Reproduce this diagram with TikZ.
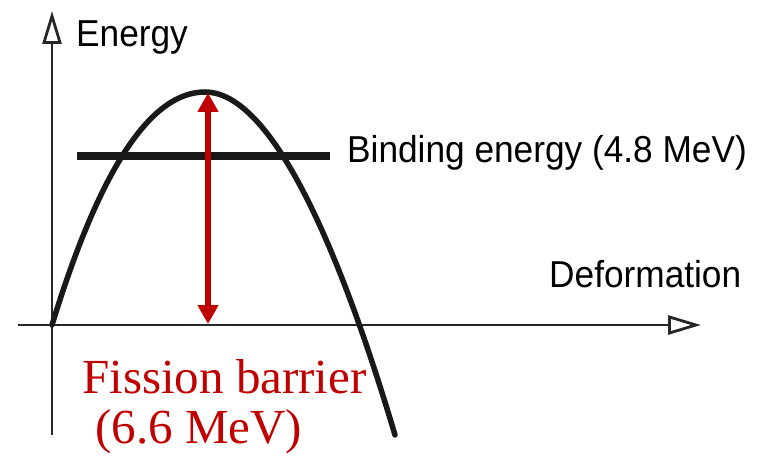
\documentclass[tikz,border=0pt]{standalone}
\usepackage{fontspec}
\setmainfont{Liberation Serif}
\setsansfont{Liberation Sans}
\usetikzlibrary{arrows.meta}
\definecolor{barred}{HTML}{C00000}
\begin{document}
\begin{tikzpicture}[x=1pt,y=-1pt,
  axis/.style={line width=2.4pt,draw=black!85,-{Triangle[open,length=33pt,width=19pt,line width=2.8pt]}},
  curve/.style={line width=5.5pt,draw=black!90,line cap=round},
  bindline/.style={line width=7.5pt,draw=black!90},
  barrier/.style={line width=6pt,draw=barred,{Triangle[length=19pt,width=20pt]}-{Triangle[length=19pt,width=20pt]}},
  sanslabel/.style={anchor=base west,inner sep=0pt,font=\sffamily\fontsize{37.5}{40}\selectfont},
  redlabel/.style={anchor=base west,inner sep=0pt,text=barred,font=\rmfamily\fontsize{49}{52}\selectfont}]
\useasboundingbox (0,0) rectangle (773,457);
% axes
\coordinate (ybot) at (52,435);
\coordinate (ytop) at (52,11);
\coordinate (xleft) at (18,325);
\coordinate (xright) at (701,325);
\draw[axis] (ybot) -- (ytop);
\draw[axis] (xleft) -- (xright);
% binding energy line
\coordinate (bl) at (77,156);
\coordinate (br) at (330,156);
\draw[bindline] (bl) -- (br);
% energy curve
\coordinate (c0) at (52,325);
\coordinate (peak) at (205,92);
\coordinate (cend) at (395,435);
\draw[curve] (c0) .. controls (101,165) and (152,92) .. (peak)
  .. controls (263,92) and (328,210) .. (cend);
% fission barrier arrow
\coordinate (btop) at (208,93);
\coordinate (bbot) at (208,324);
\draw[barrier] (bbot) -- (btop);
% labels
\node[sanslabel] (energy) at (76,47) {\scalebox{0.94}[1]{Energy}};
\node[sanslabel] (deform) at (549,287) {\scalebox{0.94}[1]{Deformation}};
\node[sanslabel] (binding) at (347,163) {\scalebox{0.94}[1]{Binding energy (4.8 MeV)}};
\node[redlabel] (fission) at (82,393) {Fission barrier};
\node[redlabel] (value) at (95,443) {(6.6 MeV)};
\end{tikzpicture}
\end{document}
